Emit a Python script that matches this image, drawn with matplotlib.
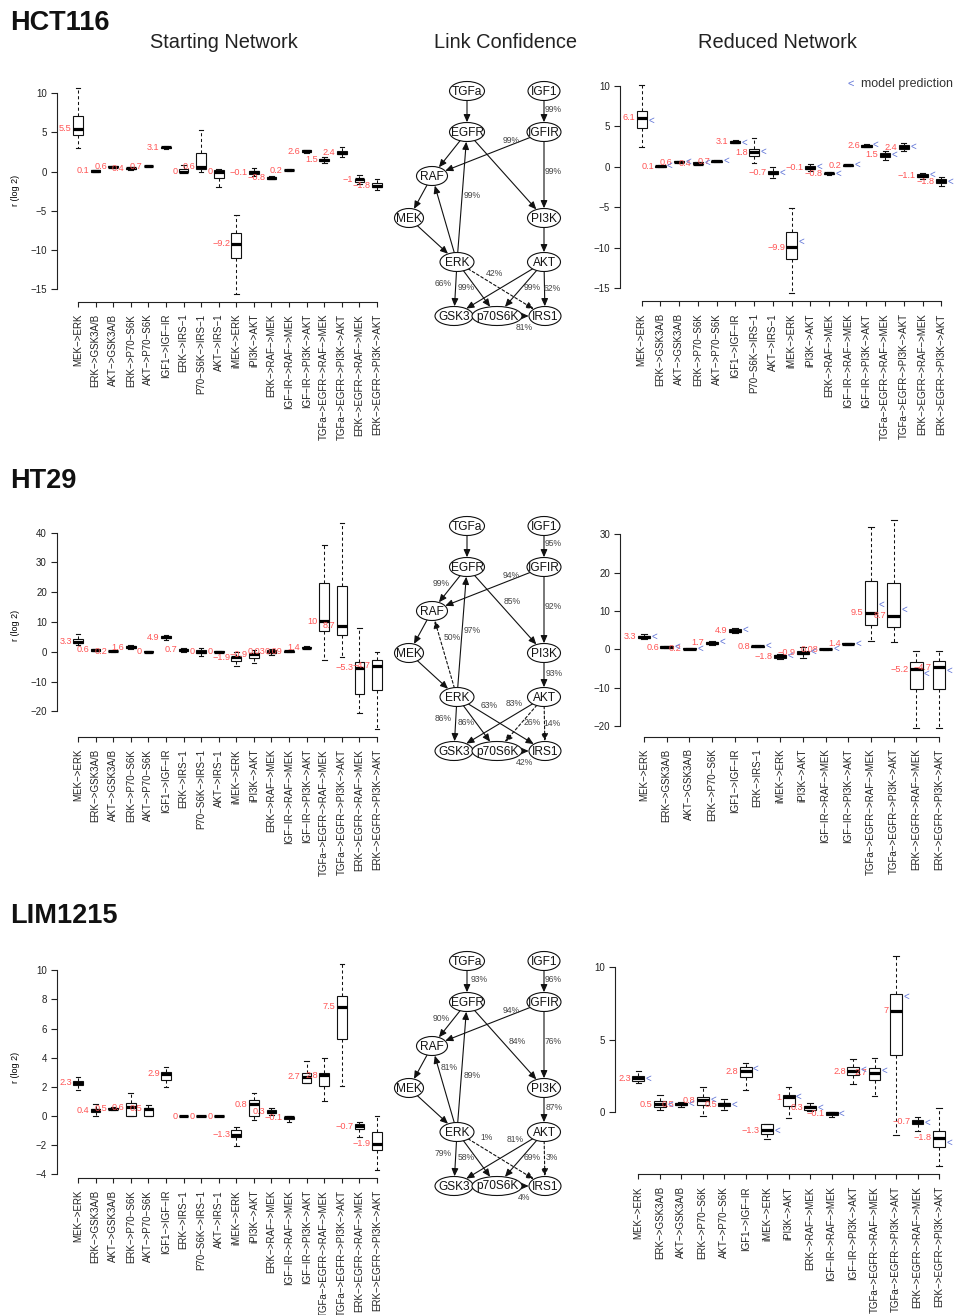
import matplotlib
matplotlib.use('Agg')
import matplotlib.pyplot as plt
from matplotlib.patches import Ellipse, FancyArrowPatch

plt.rcParams['font.family'] = ['Liberation Sans', 'DejaVu Sans']
plt.rcParams['axes.unicode_minus'] = True
plt.rcParams['text.color'] = '#222222'
plt.rcParams['xtick.color'] = '#222222'
plt.rcParams['ytick.color'] = '#222222'

W, H = 961, 1315

# ======================= DATA =======================
start_cats = ["MEK->ERK", "ERK->GSK3A/B", "AKT->GSK3A/B", "ERK->P70-S6K", "AKT->P70-S6K",
              "IGF1->IGF-IR", "ERK->IRS-1", "P70-S6K->IRS-1", "AKT->IRS-1", "iMEK->ERK",
              "iPI3K->AKT", "ERK->RAF->MEK", "IGF-IR->RAF->MEK", "IGF-IR->PI3K->AKT",
              "TGFa->EGFR->RAF->MEK", "TGFa->EGFR->PI3K->AKT", "ERK->EGFR->RAF->MEK",
              "ERK->EGFR->PI3K->AKT"]

hct_red_cats = ["MEK->ERK", "ERK->GSK3A/B", "AKT->GSK3A/B", "ERK->P70-S6K", "AKT->P70-S6K",
                "IGF1->IGF-IR", "P70-S6K->IRS-1", "AKT->IRS-1", "iMEK->ERK", "iPI3K->AKT",
                "ERK->RAF->MEK", "IGF-IR->RAF->MEK", "IGF-IR->PI3K->AKT",
                "TGFa->EGFR->RAF->MEK", "TGFa->EGFR->PI3K->AKT", "ERK->EGFR->RAF->MEK",
                "ERK->EGFR->PI3K->AKT"]

ht29_red_cats = ["MEK->ERK", "ERK->GSK3A/B", "AKT->GSK3A/B", "ERK->P70-S6K", "IGF1->IGF-IR",
                 "ERK->IRS-1", "iMEK->ERK", "iPI3K->AKT", "IGF-IR->RAF->MEK",
                 "IGF-IR->PI3K->AKT", "TGFa->EGFR->RAF->MEK", "TGFa->EGFR->PI3K->AKT",
                 "ERK->EGFR->RAF->MEK", "ERK->EGFR->PI3K->AKT"]

lim_red_cats = ["MEK->ERK", "ERK->GSK3A/B", "AKT->GSK3A/B", "ERK->P70-S6K", "AKT->P70-S6K",
                "IGF1->IGF-IR", "iMEK->ERK", "iPI3K->AKT", "ERK->RAF->MEK",
                "IGF-IR->RAF->MEK", "IGF-IR->PI3K->AKT", "TGFa->EGFR->RAF->MEK",
                "TGFa->EGFR->PI3K->AKT", "ERK->EGFR->RAF->MEK", "ERK->EGFR->PI3K->AKT"]

# HCT116 starting network
hct_s_med = [5.5, 0.1, 0.6, 0.4, 0.7, 3.1, 0, 0.6, 0, -9.2, -0.1, -0.8, 0.2, 2.6, 1.5, 2.4, -1.0, -1.8]
hct_s_q1 = [4.7, 0.0, 0.55, 0.3, 0.65, 3.0, -0.05, 0.3, -0.85, -11.1, -0.35, -0.9, 0.15, 2.5, 1.3, 2.2, -1.3, -2.0]
hct_s_q3 = [7.1, 0.15, 0.7, 0.5, 0.75, 3.2, 0.35, 2.4, 0.2, -7.9, 0.1, -0.7, 0.25, 2.7, 1.6, 2.6, -0.9, -1.5]
hct_s_lo = [3.0, -0.05, 0.5, 0.2, 0.6, 2.9, -0.1, 0.0, -2.0, -15.6, -0.6, -1.0, 0.1, 2.4, 1.1, 1.9, -1.6, -2.4]
hct_s_hi = [10.7, 0.2, 0.75, 0.6, 0.8, 3.25, 0.8, 5.3, 0.3, -5.5, 0.4, -0.6, 0.3, 2.8, 1.9, 3.1, -0.5, -1.0]

# HCT116 reduced network
hct_r_med = [6.1, 0.1, 0.6, 0.4, 0.7, 3.1, 1.8, -0.7, -9.9, -0.1, -0.8, 0.2, 2.6, 1.5, 2.4, -1.1, -1.8]
hct_r_q1 = [4.85, 0.05, 0.55, 0.3, 0.65, 3.0, 1.35, -0.9, -11.4, -0.3, -0.9, 0.15, 2.5, 1.2, 2.2, -1.3, -2.0]
hct_r_q3 = [6.95, 0.15, 0.7, 0.55, 0.75, 3.2, 2.25, -0.45, -8.05, 0.1, -0.7, 0.25, 2.7, 1.7, 2.65, -0.9, -1.5]
hct_r_lo = [2.5, 0.0, 0.5, 0.2, 0.6, 2.9, 0.45, -1.4, -15.6, -0.5, -1.0, 0.1, 2.4, 0.9, 2.0, -1.5, -2.3]
hct_r_hi = [10.1, 0.2, 0.75, 0.6, 0.8, 3.3, 3.6, 0.0, -5.1, 0.35, -0.6, 0.3, 2.8, 2.0, 2.9, -0.8, -1.2]
hct_r_pred = [5.7, 0.1, 0.6, 0.5, 0.7, 3.0, 1.9, -0.7, -9.3, 0.0, -0.8, 0.2, 2.7, 1.5, 2.5, -1.0, -1.8]

# HT29 starting network
ht_s_med = [3.3, 0.6, 0.2, 1.6, 0, 4.9, 0.7, 0, 0, -1.9, -0.9, 0.03, 0.09, 1.4, 10.3, 8.7, -5.3, -4.7]
ht_s_q1 = [2.95, 0.4, 0.1, 1.2, -0.15, 4.5, 0.3, -0.5, -0.1, -3.0, -2.2, -0.5, -0.1, 1.2, 6.9, 5.5, -14.1, -13.0]
ht_s_q3 = [4.2, 0.8, 0.3, 1.9, 0.15, 5.2, 1.0, 0.5, 0.1, -1.6, -0.5, 0.5, 0.2, 1.6, 23.0, 22.1, -3.5, -2.6]
ht_s_lo = [2.2, 0.2, 0.0, 1.0, -0.3, 4.0, 0.0, -1.3, -0.2, -4.8, -3.9, -1.0, -0.2, 1.0, -2.8, -1.75, -20.7, -25.9]
ht_s_hi = [5.9, 1.0, 0.4, 2.2, 0.3, 5.5, 1.2, 1.3, 0.2, -0.1, 0.5, 0.8, 0.3, 1.8, 35.7, 43.4, 8.1, 0.0]

# HT29 reduced network
ht_r_med = [3.3, 0.6, 0.2, 1.7, 4.9, 0.8, -1.8, -0.9, 0.08, 1.4, 9.5, 8.7, -5.2, -4.7]
ht_r_q1 = [3.0, 0.45, 0.1, 1.4, 4.6, 0.65, -2.2, -1.3, 0.0, 1.3, 6.3, 5.9, -10.4, -10.3]
ht_r_q3 = [3.6, 0.75, 0.3, 2.0, 5.2, 0.95, -1.5, -0.35, 0.15, 1.55, 17.9, 17.4, -3.2, -3.0]
ht_r_lo = [2.7, 0.3, 0.0, 1.2, 4.3, 0.5, -2.4, -2.2, -0.1, 1.2, 2.2, 1.8, -20.6, -20.4]
ht_r_hi = [3.9, 0.9, 0.4, 2.2, 5.5, 1.1, -1.3, 0.7, 0.2, 1.6, 32.0, 33.6, -0.4, -0.4]
ht_r_pred = [3.3, 0.6, 0.1, 1.9, 5.0, 0.8, -1.8, -0.7, 0.1, 1.4, 11.6, 10.4, -6.4, -5.6]

# LIM1215 starting network
lim_s_med = [2.3, 0.4, 0.5, 0.6, 0.5, 2.9, 0, 0, 0, -1.3, 0.8, 0.3, -0.1, 2.7, 2.8, 7.5, -0.7, -1.9]
lim_s_q1 = [2.13, 0.25, 0.45, 0.0, 0.0, 2.45, -0.02, -0.02, -0.02, -1.46, 0.02, 0.2, -0.2, 2.29, 2.04, 5.31, -0.92, -2.33]
lim_s_q3 = [2.43, 0.51, 0.55, 0.87, 0.55, 3.02, 0.02, 0.02, 0.02, -0.96, 1.1, 0.4, -0.05, 2.93, 2.98, 8.26, -0.55, -1.1]
lim_s_lo = [1.76, 0.0, 0.4, 0.0, 0.0, 2.0, -0.03, -0.03, -0.03, -2.06, -0.3, 0.1, -0.4, 2.29, 1.05, 2.08, -1.42, -3.7]
lim_s_hi = [2.7, 0.83, 0.6, 1.6, 0.76, 3.39, 0.03, 0.03, 0.03, -0.77, 1.56, 0.55, 0.0, 3.75, 3.96, 10.43, -0.39, 0.0]

# LIM1215 reduced network
lim_r_med = [2.3, 0.5, 0.5, 0.8, 0.5, 2.8, -1.3, 1.0, 0.3, -0.1, 2.8, 2.7, 7.0, -0.7, -1.8]
lim_r_q1 = [2.15, 0.35, 0.45, 0.44, 0.4, 2.38, -1.52, 0.39, 0.15, -0.2, 2.56, 2.19, 3.9, -0.85, -2.42]
lim_r_q3 = [2.47, 0.76, 0.6, 1.02, 0.6, 3.07, -0.88, 1.15, 0.4, -0.05, 3.1, 3.03, 8.13, -0.55, -1.32]
lim_r_lo = [1.96, 0.09, 0.35, -0.3, 0.1, 1.5, -1.92, -0.46, 0.05, -0.35, 1.9, 1.09, -1.64, -1.35, -3.76]
lim_r_hi = [2.8, 1.18, 0.7, 1.7, 0.85, 3.35, -0.88, 1.69, 0.6, 0.0, 3.63, 3.7, 10.8, -0.4, 0.23]
lim_r_pred = [2.3, 0.5, 0.55, 0.8, 0.5, 3.0, -1.3, 1.05, 0.25, -0.15, 2.9, 2.8, 7.97, -0.75, -2.15]

# Network edges and link confidences (%)
edges = [('TGFa', 'EGFR'), ('IGF1', 'IGFIR'), ('EGFR', 'RAF'), ('IGFIR', 'RAF'),
         ('EGFR', 'PI3K'), ('IGFIR', 'PI3K'), ('RAF', 'MEK'), ('MEK', 'ERK'),
         ('ERK', 'RAF'), ('ERK', 'EGFR'), ('PI3K', 'AKT'), ('ERK', 'GSK3'),
         ('ERK', 'p70S6K'), ('ERK', 'IRS1'), ('AKT', 'GSK3'), ('AKT', 'p70S6K'),
         ('AKT', 'IRS1'), ('p70S6K', 'IRS1')]
hct_conf = [None, 99, None, 99, None, 99, None, None, None, 99, None, 66, 99, 42, None, 99, 62, 81]
hct_dashed = [0, 0, 0, 0, 0, 0, 0, 0, 0, 0, 0, 0, 0, 1, 0, 0, 0, 0]
ht_conf = [None, 95, 99, 94, 85, 92, None, None, 50, 97, 93, 86, 86, 63, 83, 26, 14, 42]
ht_dashed = [0, 0, 0, 0, 0, 0, 0, 0, 1, 0, 0, 0, 0, 0, 0, 1, 1, 0]
lim_conf = [93, 96, 90, 94, 84, 76, None, None, 81, 89, 87, 79, 58, 1, 81, 69, 3, 4]
lim_dashed = [0, 0, 0, 0, 0, 0, 0, 0, 0, 0, 0, 0, 0, 1, 0, 0, 1, 0]

# ======================= LAYOUT =======================
RED = '#FF5555'
BLUE = '#5F73D6'
INK = '#111111'

fig = plt.figure(figsize=(W / 100, H / 100), dpi=100)
ov = fig.add_axes([0, 0, 1, 1])
ov.set_xlim(0, W)
ov.set_ylim(H, 0)
ov.axis('off')
ov.patch.set_visible(False)


def fmt(v):
    return ('%.2g' % v).replace('-', '\u2212')


def draw_panel(px_x, px_y, cats, med, q1, q3, lo, hi, yticks, pred=None, ylabel=False):
    n = len(cats)
    x0, x1 = 0.5 - 0.04 * n, n + 0.5 + 0.04 * n
    ymin, ymax = min(lo), max(hi)
    pad = 0.04 * (ymax - ymin)
    y0, y1 = ymin - pad, ymax + pad
    xp1, xpn = px_x
    sx = (xpn - xp1) / (n - 1)
    left = xp1 - (1 - x0) * sx
    right = xpn + (x1 - n) * sx
    tv_hi, tp_hi, tv_lo, tp_lo = px_y
    sy = (tp_lo - tp_hi) / (tv_hi - tv_lo)
    top = tp_hi - (y1 - tv_hi) * sy
    bottom = tp_lo + (tv_lo - y0) * sy
    ax = fig.add_axes([left / W, 1 - bottom / H, (right - left) / W, (bottom - top) / H])
    ax.patch.set_visible(False)
    stats = [dict(med=m, q1=a, q3=b, whislo=l, whishi=h, fliers=[])
             for m, a, b, l, h in zip(med, q1, q3, lo, hi)]
    pos = list(range(1, n + 1))
    ax.bxp(stats, positions=pos, widths=0.55, capwidths=0.26, patch_artist=True,
           showfliers=False, manage_ticks=False,
           boxprops=dict(facecolor='white', edgecolor=INK, linewidth=0.8),
           medianprops=dict(color='black', linewidth=2.3, solid_capstyle='butt'),
           whiskerprops=dict(color=INK, linewidth=0.75, linestyle=(0, (3, 2.5))),
           capprops=dict(color=INK, linewidth=0.8))
    ax.set_xlim(x0, x1)
    ax.set_ylim(y0, y1)
    for s in ('top', 'right'):
        ax.spines[s].set_visible(False)
    ax.spines['left'].set_bounds(min(yticks), max(yticks))
    ax.spines['bottom'].set_bounds(1, n)
    for s in ('left', 'bottom'):
        ax.spines[s].set_color('#222222')
        ax.spines[s].set_linewidth(0.8)
    ax.set_yticks(yticks)
    ax.set_xticks(pos)
    ax.set_xticklabels([c.replace('-', '\u2212') for c in cats], rotation=90,
                       ha='center', va='top')
    ax.tick_params(axis='x', length=3.5, pad=5.0, labelsize=7, width=0.8)
    ax.tick_params(axis='y', length=4.5, pad=2.5, labelsize=7, width=0.8)
    for i, m in zip(pos, med):
        ax.annotate(fmt(m), xy=(i - 0.275, m), xytext=(-1, 0), textcoords='offset points',
                    ha='right', va='center', color=RED, fontsize=6.6)
    if pred is not None:
        for i, p in zip(pos, pred):
            ax.annotate('<', xy=(i + 0.275, p), xytext=(1, 0), textcoords='offset points',
                        ha='left', va='center', color=BLUE, fontsize=7)
    if ylabel:
        ax.set_ylabel('r (log 2)', fontsize=6.5)
        ax.yaxis.set_label_coords((20 - left) / (right - left), 0.5)
    return ax


node_pos = {'TGFa': (467, 91), 'IGF1': (544, 91), 'EGFR': (467, 132), 'IGFIR': (544, 132),
            'RAF': (432, 176), 'MEK': (409, 218), 'PI3K': (544, 218), 'ERK': (457, 262),
            'AKT': (544, 262), 'GSK3': (454, 316), 'p70S6K': (497, 316), 'IRS1': (545, 316)}
node_w = {'TGFa': 35, 'IGF1': 32, 'EGFR': 35, 'IGFIR': 34, 'RAF': 31, 'MEK': 29, 'PI3K': 33,
          'ERK': 34, 'AKT': 33, 'GSK3': 38, 'p70S6K': 50, 'IRS1': 32}
node_h = 19
label_pos = {('TGFa', 'EGFR'): (479, 109), ('IGF1', 'IGFIR'): (553, 109),
             ('EGFR', 'RAF'): (441, 148), ('IGFIR', 'RAF'): (511, 140),
             ('EGFR', 'PI3K'): (514, 169), ('IGFIR', 'PI3K'): (553, 171),
             ('ERK', 'RAF'): (450, 199), ('ERK', 'EGFR'): (472, 195),
             ('PI3K', 'AKT'): (554, 238), ('ERK', 'GSK3'): (443, 283),
             ('ERK', 'p70S6K'): (466, 287), ('ERK', 'IRS1'): (489, 270),
             ('AKT', 'GSK3'): (514, 268), ('AKT', 'p70S6K'): (532, 287),
             ('AKT', 'IRS1'): (552, 288), ('p70S6K', 'IRS1'): (524, 327)}


def draw_network(dy, conf, dashed, overrides):
    ells = {}
    for name, (x, y) in node_pos.items():
        e = Ellipse((x, y + dy), node_w[name], node_h, facecolor='white', edgecolor=INK,
                    linewidth=0.8, zorder=3)
        ov.add_patch(e)
        ells[name] = e
        ov.text(x, y + dy + 0.5, name, ha='center', va='center', fontsize=8.6,
                color='#111111', zorder=4)
    for (s, t), c, d in zip(edges, conf, dashed):
        xa, ya = node_pos[s]
        xb, yb = node_pos[t]
        arr = FancyArrowPatch((xa, ya + dy), (xb, yb + dy), patchA=ells[s], patchB=ells[t],
                              shrinkA=0, shrinkB=0.5,
                              arrowstyle='-|>,head_length=0.45,head_width=0.2',
                              mutation_scale=10, linewidth=0.8, color=INK,
                              linestyle=(0, (2.5, 2)) if d else '-', zorder=2)
        ov.add_patch(arr)
        if c is not None:
            lx, ly = overrides.get((s, t), label_pos[(s, t)])
            ov.text(lx, ly + dy, '%d%%' % c, ha='center', va='center', fontsize=6.2,
                    color='#444444', zorder=5)


# Row titles & column titles
for txt, yb in (('HCT116', 30), ('HT29', 488), ('LIM1215', 923)):
    ov.text(10, yb, txt, fontsize=19.5, fontweight='bold', ha='left', va='baseline',
            color='#111111')
for txt, xc in (('Starting Network', 223.5), ('Link Confidence', 505.5), ('Reduced Network', 777.5)):
    ov.text(xc, 48, txt, fontsize=14.4, ha='center', va='baseline', color='#222222')

# Legend
ov.text(848, 84, '<', fontsize=8, color=BLUE, ha='left', va='center')
ov.text(861, 84, 'model prediction', fontsize=9, color='#333333', ha='left', va='center')

# Row 1: HCT116
draw_panel((78, 377), (10, 93.3, -15, 289), start_cats, hct_s_med, hct_s_q1, hct_s_q3,
           hct_s_lo, hct_s_hi, [-15, -10, -5, 0, 5, 10], ylabel=True)
draw_network(0, hct_conf, hct_dashed, {('ERK', 'IRS1'): (494, 273)})
draw_panel((641.7, 941.3), (10, 86, -15, 288.3), hct_red_cats, hct_r_med, hct_r_q1, hct_r_q3,
           hct_r_lo, hct_r_hi, [-15, -10, -5, 0, 5, 10], pred=hct_r_pred)

# Row 2: HT29
draw_panel((78, 377), (40, 532.7, -20, 711.3), start_cats, ht_s_med, ht_s_q1, ht_s_q3,
           ht_s_lo, ht_s_hi, [-20, -10, 0, 10, 20, 30, 40], ylabel=True)
draw_network(435, ht_conf, ht_dashed, {('IGF1', 'IGFIR'): (553, 108), ('EGFR', 'PI3K'): (512, 166),
                                       ('ERK', 'RAF'): (452, 202)})
draw_panel((644, 939), (30, 534.3, -20, 726), ht29_red_cats, ht_r_med, ht_r_q1, ht_r_q3,
           ht_r_lo, ht_r_hi, [-20, -10, 0, 10, 20, 30], pred=ht_r_pred)

# Row 3: LIM1215
draw_panel((78, 377), (10, 970.3, -4, 1174.3), start_cats, lim_s_med, lim_s_q1, lim_s_q3,
           lim_s_lo, lim_s_hi, [-4, -2, 0, 2, 4, 6, 8, 10], ylabel=True)
draw_network(870, lim_conf, lim_dashed, {('ERK', 'EGFR'): (472, 206), ('EGFR', 'PI3K'): (517, 172),
                                         ('ERK', 'RAF'): (449, 197), ('ERK', 'IRS1'): (487, 268),
                                         ('AKT', 'GSK3'): (515, 269)})
draw_panel((638.3, 939), (10, 967.3, 0, 1111.7), lim_red_cats, lim_r_med, lim_r_q1, lim_r_q3,
           lim_r_lo, lim_r_hi, [0, 5, 10], pred=lim_r_pred)

fig.savefig('out.png', dpi=100)
